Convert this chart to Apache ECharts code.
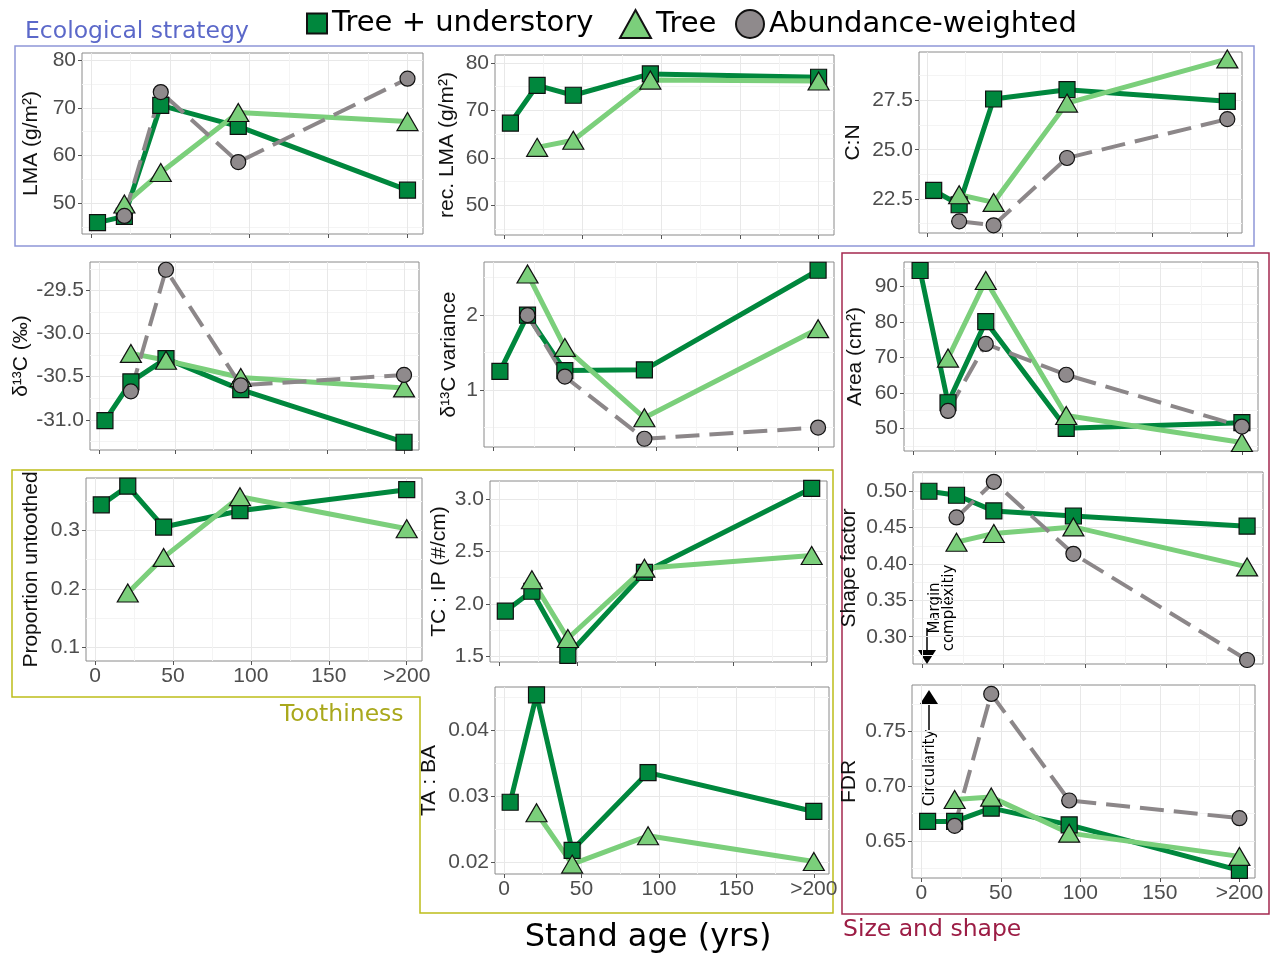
<!DOCTYPE html>
<html><head><meta charset="utf-8">
<script src="https://cdn.jsdelivr.net/npm/echarts@6/dist/echarts.min.js"></script>
<style>html,body{margin:0;padding:0;background:#fff}#c{width:1270px;height:958px}</style>
</head><body><div id="c"></div>
<script>
// ---------------- DATA ----------------
const ages = [4, 21, 44, 93, 200];
const xTicks = [0, 50, 100, 150, 200];
const xMinorTicks = [25, 75, 125, 175];
const xTickLabels = ['0', '50', '100', '150', '>200'];
const seriesNames = ['Tree + understory', 'Tree', 'Abundance-weighted'];

const lmaTU   = [45.9, 47.2, 70.5, 66.1, 52.7];
const lmaTree = [null, 49.8, 56.4, 69.0, 67.1];
const lmaAW   = [null, 47.3, 73.3, 58.6, 76.1];
const lmaTicks = [50, 60, 70, 80];
const lmaLabels = ['50', '60', '70', '80'];

const recTU   = [67.3, 75.3, 73.2, 77.7, 77.0];
const recTree = [null, 62.2, 63.7, 76.4, 76.2];
const recTicks = [50, 60, 70, 80];
const recLabels = ['50', '60', '70', '80'];

const cnTU   = [22.94, 22.21, 27.57, 28.04, 27.45];
const cnTree = [null, 22.72, 22.33, 27.36, 29.6];
const cnAW   = [null, 21.37, 21.17, 24.58, 26.55];
const cnTicks = [22.5, 25, 27.5];
const cnLabels = ['22.5', '25.0', '27.5'];

const dcTU   = [-31.01, -30.56, -30.29, -30.65, -31.26];
const dcTree = [null, -30.23, -30.31, -30.51, -30.63];
const dcAW   = [null, -30.67, -29.26, -30.60, -30.48];
const dcTicks = [-31, -30.5, -30, -29.5];
const dcLabels = ['-31.0', '-30.5', '-30.0', '-29.5'];

const varTU   = [1.25, 2.0, 1.26, 1.27, 2.60];
const varTree = [null, 2.55, 1.57, 0.63, 1.82];
const varAW   = [null, 2.0, 1.18, 0.35, 0.50];
const varTicks = [1, 2];
const varLabels = ['1', '2'];

const areaTU   = [94.5, 57.2, 80.1, 50.0, 51.6];
const areaTree = [null, 69.8, 91.7, 53.6, 46.0];
const areaAW   = [null, 54.9, 73.8, 65.1, 50.5];
const areaTicks = [50, 60, 70, 80, 90];
const areaLabels = ['50', '60', '70', '80', '90'];

const untTU   = [0.344, 0.376, 0.306, 0.334, 0.370];
const untTree = [null, 0.193, 0.254, 0.358, 0.303];
const untTicks = [0.1, 0.2, 0.3];
const untLabels = ['0.1', '0.2', '0.3'];

const tcTU   = [1.93, 2.12, 1.51, 2.30, 3.10];
const tcTree = [null, 2.23, 1.67, 2.34, 2.46];
const tcTicks = [1.5, 2.0, 2.5, 3.0];
const tcLabels = ['1.5', '2.0', '2.5', '3.0'];

const sfTU   = [0.500, 0.4945, 0.473, 0.466, 0.452];
const sfTree = [null, 0.430, 0.442, 0.451, 0.396];
const sfAW   = [null, 0.464, 0.513, 0.414, 0.268];
const sfTicks = [0.30, 0.35, 0.40, 0.45, 0.50];
const sfLabels = ['0.30', '0.35', '0.40', '0.45', '0.50'];

const taTU   = [0.0291, 0.0454, 0.0218, 0.0336, 0.0277];
const taTree = [null, 0.0275, 0.0197, 0.0240, 0.0201];
const taTicks = [0.02, 0.03, 0.04];
const taLabels = ['0.02', '0.03', '0.04'];

const fdrTU   = [0.6677, 0.6677, 0.6799, 0.6646, 0.6229];
const fdrTree = [null, 0.6878, 0.690, 0.657, 0.6357];
const fdrAW   = [null, 0.6637, 0.7845, 0.6869, 0.6707];
const fdrTicks = [0.65, 0.70, 0.75];
const fdrLabels = ['0.65', '0.70', '0.75'];

// ---------------- LAYOUT / STYLE ----------------
const X_MIN = -5.8, X_MAX = 209.8;
const DG = '#00873d', LG = '#7bcf7b', GR = '#8c8789', GRF = '#8f8a8c';
const FONT = '"Liberation Sans", Arial, sans-serif';
const DFONT = '"DejaVu Sans", Verdana, sans-serif';

function minorOf(ticks) {
  const step = ticks.length > 1 ? ticks[1] - ticks[0] : 1;
  const out = [];
  for (let i = -1; i < ticks.length; i++) {
    const base = i < 0 ? ticks[0] - step : ticks[i];
    out.push(Math.round((base + step / 2) * 1e6) / 1e6);
  }
  return out;
}

const panels = [
  { title: 'LMA (g/m²)', d: [lmaTU, lmaTree, lmaAW], yr: [43.5, 81.5], t: lmaTicks, l: lmaLabels, box: [82, 53, 423, 234], gap: 40, xl: false },
  { title: 'rec. LMA (g/m²)', d: [recTU, recTree, null], yr: [43.7, 81.7], t: recTicks, l: recLabels, box: [495, 55, 834, 235], gap: 37, xl: false },
  { title: 'C:N', d: [cnTU, cnTree, cnAW], yr: [20.78, 29.95], t: cnTicks, l: cnLabels, box: [919, 52, 1242, 233], gap: 55, xl: false },
  { title: 'δ¹³C (‰)', d: [dcTU, dcTree, dcAW], yr: [-31.35, -29.17], t: dcTicks, l: dcLabels, box: [90, 262, 419, 450], gap: 58, xl: false },
  { title: 'δ¹³C variance', d: [varTU, varTree, varAW], yr: [0.24, 2.71], t: varTicks, l: varLabels, box: [484, 262, 834, 447], gap: 24, xl: false },
  { title: 'Area (cm²)', d: [areaTU, areaTree, areaAW], yr: [43.6, 96.9], t: areaTicks, l: areaLabels, box: [904, 262, 1258, 451], gap: 38, xl: false },
  { title: 'Proportion untoothed', d: [untTU, untTree, null], yr: [0.0765, 0.39], t: untTicks, l: untLabels, box: [86, 478, 422, 661], gap: 44, xl: true },
  { title: 'TC : IP (#/cm)', d: [tcTU, tcTree, null], yr: [1.446, 3.17], t: tcTicks, l: tcLabels, box: [490, 481, 827, 662], gap: 40, xl: false },
  { title: 'Shape factor', d: [sfTU, sfTree, sfAW], yr: [0.2625, 0.5265], t: sfTicks, l: sfLabels, box: [913, 472, 1263, 664], gap: 53, xl: false },
  { title: 'TA : BA', d: [taTU, taTree, null], yr: [0.0182, 0.0466], t: taTicks, l: taLabels, box: [495, 687, 829, 874], gap: 55, xl: true },
  { title: 'FDR', d: [fdrTU, fdrTree, fdrAW], yr: [0.6159, 0.7927], t: fdrTicks, l: fdrLabels, box: [912, 685, 1255, 878], gap: 52, xl: true }
];

const groups = [
  { name: seriesNames[0], color: DG, symbol: 'rect', size: 16, lw: 5, dash: 'solid', lc: DG },
  { name: seriesNames[1], color: LG, symbol: 'triangle', size: [21, 18], lw: 5, dash: 'solid', lc: LG },
  { name: seriesNames[2], color: GRF, symbol: 'circle', size: 15, lw: 4, dash: [24, 10], lc: GR }
];

const grid = [], xAxis = [], yAxis = [], lineSeries = [], pointSeries = [];
panels.forEach((p, i) => {
  grid.push({ left: p.box[0], top: p.box[1], width: p.box[2] - p.box[0], height: p.box[3] - p.box[1],
    show: true, borderColor: '#8a8a8a', borderWidth: 1, backgroundColor: '#fff' });
  const yMinor = minorOf(p.t);
  xAxis.push({ gridIndex: i, type: 'value', min: X_MIN, max: X_MAX, position: 'bottom',
    axisLine: { show: false, onZero: false }, axisTick: { show: false, customValues: xMinorTicks },
    axisLabel: { show: false, customValues: xMinorTicks },
    splitLine: { show: true, lineStyle: { color: '#f4f4f4', width: 1 } } });
  xAxis.push({ gridIndex: i, type: 'value', min: X_MIN, max: X_MAX, position: 'bottom',
    axisLine: { show: false, onZero: false },
    axisTick: { show: true, length: 4, lineStyle: { color: '#555' }, customValues: xTicks },
    axisLabel: { show: p.xl, customValues: xTicks, margin: 5, color: '#4d4d4d', fontSize: 21, fontFamily: FONT,
      formatter: v => xTickLabels[xTicks.indexOf(v)] },
    splitLine: { show: true, lineStyle: { color: '#e8e8e8', width: 1 } } });
  yAxis.push({ gridIndex: i, type: 'value', min: p.yr[0], max: p.yr[1], position: 'left',
    axisLine: { show: false, onZero: false }, axisTick: { show: false, customValues: yMinor },
    axisLabel: { show: false, customValues: yMinor },
    splitLine: { show: true, lineStyle: { color: '#f4f4f4', width: 1 } } });
  yAxis.push({ gridIndex: i, type: 'value', min: p.yr[0], max: p.yr[1], position: 'left',
    axisLine: { show: false, onZero: false },
    axisTick: { show: true, length: 4, lineStyle: { color: '#555' }, customValues: p.t },
    axisLabel: { show: true, customValues: p.t, margin: 6, color: '#4d4d4d', fontSize: 21, fontFamily: FONT,
      formatter: v => { const k = p.t.findIndex(t => Math.abs(t - v) < 1e-9); return k >= 0 ? p.l[k] : ''; } },
    splitLine: { show: true, lineStyle: { color: '#e8e8e8', width: 1 } },
    name: p.title, nameLocation: 'middle', nameRotate: 90, nameGap: p.gap,
    nameTextStyle: { color: '#111', fontSize: 21, fontFamily: FONT } });
  groups.forEach((g, k) => {
    const arr = p.d[k];
    if (!arr) return;
    const data = ages.map((a, j) => [a, arr[j]]).filter(d => d[1] !== null);
    lineSeries.push({ type: 'line', xAxisIndex: 2 * i + 1, yAxisIndex: 2 * i + 1, data, symbol: 'none', z: 2 + k * 0.1,
      lineStyle: { color: g.lc, width: g.lw, type: g.dash, cap: 'butt', join: 'round' }, silent: true });
    pointSeries.push({ type: 'scatter', name: g.name, xAxisIndex: 2 * i + 1, yAxisIndex: 2 * i + 1, data,
      symbol: g.symbol, symbolSize: g.size, z: 4 + k * 0.1,
      itemStyle: { color: g.color, borderColor: '#111', borderWidth: 1.2, opacity: 1 } });
  });
});

const legendBase = { top: 4, orient: 'horizontal', selectedMode: false,
  textStyle: { fontSize: 29, fontFamily: DFONT, color: '#000' } };

const option = {
  animation: false,
  backgroundColor: '#fff',
  grid, xAxis, yAxis,
  series: lineSeries.concat(pointSeries),
  legend: [
    Object.assign({}, legendBase, { left: 301, itemWidth: 20, itemHeight: 20, data: [{ name: seriesNames[0], icon: 'rect' }] }),
    Object.assign({}, legendBase, { left: 614, itemWidth: 31, itemHeight: 28, data: [{ name: seriesNames[1], icon: 'triangle' }] }),
    Object.assign({}, legendBase, { left: 730, itemWidth: 28, itemHeight: 28, data: [{ name: seriesNames[2], icon: 'circle' }] })
  ],
  graphic: [
    { type: 'rect', z: -10, shape: { x: 15, y: 46, width: 1239, height: 200 }, style: { fill: 'none', stroke: '#8e96d8', lineWidth: 1.5 } },
    { type: 'rect', z: -10, shape: { x: 842, y: 253, width: 427, height: 661 }, style: { fill: 'none', stroke: '#a4284f', lineWidth: 1.5 } },
    { type: 'polygon', z: -10, shape: { points: [[12, 470], [833, 470], [833, 913], [420, 913], [420, 697], [12, 697]] }, style: { fill: 'none', stroke: '#bdbd1a', lineWidth: 1.5 } },
    { type: 'text', x: 25, y: 32, style: { text: 'Ecological strategy', font: '23.5px ' + DFONT, fill: '#5b68c9', textAlign: 'left', textVerticalAlign: 'middle' } },
    { type: 'text', x: 280, y: 715, style: { text: 'Toothiness', font: '23.5px ' + DFONT, fill: '#a9a81c', textAlign: 'left', textVerticalAlign: 'middle' } },
    { type: 'text', x: 843, y: 930, style: { text: 'Size and shape', font: '23.5px ' + DFONT, fill: '#9c1d45', textAlign: 'left', textVerticalAlign: 'middle' } },
    { type: 'text', x: 648, y: 938, style: { text: 'Stand age (yrs)', font: '32px ' + DFONT, fill: '#000', textAlign: 'center', textVerticalAlign: 'middle' } },
    { type: 'polyline', shape: { points: [[927, 628], [927, 653]] }, style: { stroke: '#000', lineWidth: 1.5 } },
    { type: 'polygon', shape: { points: [[918, 650], [936, 650], [927, 664]] }, style: { fill: '#000' } },
    { type: 'text', x: 942, y: 608, rotation: Math.PI / 2, style: { text: 'Margin\ncomplexitiy', font: '15px ' + DFONT, lineHeight: 14, fill: '#000', textAlign: 'center', textVerticalAlign: 'middle' } },
    { type: 'polyline', shape: { points: [[929, 730], [929, 702]] }, style: { stroke: '#000', lineWidth: 1.5 } },
    { type: 'polygon', shape: { points: [[920, 704], [938, 704], [929, 690]] }, style: { fill: '#000' } },
    { type: 'text', x: 930, y: 768, rotation: Math.PI / 2, style: { text: 'Circularity', font: '15px ' + DFONT, fill: '#000', textAlign: 'center', textVerticalAlign: 'middle' } }
  ]
};

const chart = echarts.init(document.getElementById('c'), null, { renderer: 'canvas' });
chart.setOption(option);
</script></body></html>
